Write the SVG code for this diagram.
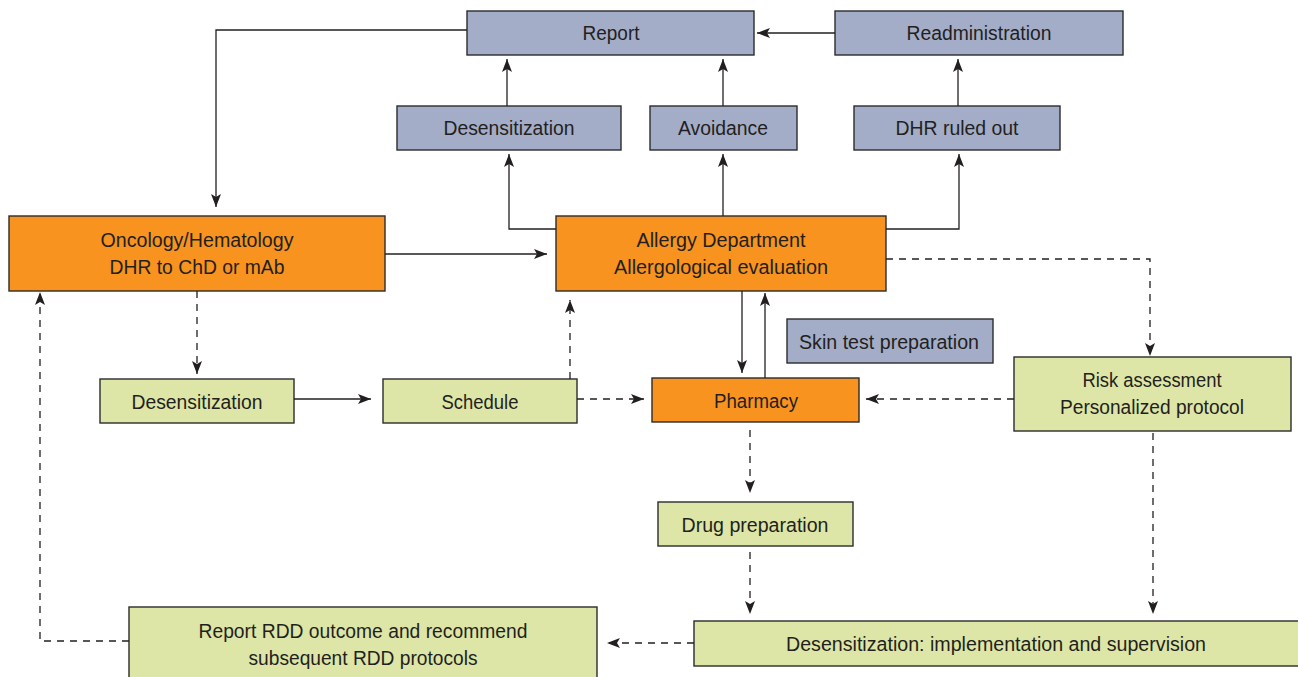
<svg xmlns="http://www.w3.org/2000/svg" width="1298" height="677" viewBox="0 0 1298 677">
<style>
.b{fill:#a3adc8;stroke:#2b2b2b;stroke-width:1.4}
.o{fill:#f7931e;stroke:#2b2b2b;stroke-width:1.4}
.g{fill:#dde6a6;stroke:#2b2b2b;stroke-width:1.4}
text{font-family:"Liberation Sans",Arial,sans-serif;font-size:20px;fill:#231f20;text-anchor:middle}
.c path{fill:none;stroke:#231f20;stroke-width:1.3}
.c .d{stroke-dasharray:7 6}
</style>
<defs>
<marker id="a" viewBox="0 0 13 10" refX="13" refY="5" markerWidth="13" markerHeight="10" markerUnits="userSpaceOnUse" orient="auto">
<path d="M0,0 L13,5 L0,10 L3,5 Z" fill="#231f20"/>
</marker>
</defs>
<rect width="1298" height="677" fill="#fff"/>
<g id="report"><rect class="b" x="467" y="11" width="287" height="44"/><text x="611" y="40" textLength="57" lengthAdjust="spacingAndGlyphs">Report</text></g>
<g id="readmin"><rect class="b" x="835" y="11" width="288" height="44"/><text x="979" y="40" textLength="145" lengthAdjust="spacingAndGlyphs">Readministration</text></g>
<g id="desens-blue"><rect class="b" x="397" y="106" width="224" height="44"/><text x="509" y="135" textLength="131" lengthAdjust="spacingAndGlyphs">Desensitization</text></g>
<g id="avoid"><rect class="b" x="650" y="106" width="147" height="44"/><text x="723" y="135" textLength="90" lengthAdjust="spacingAndGlyphs">Avoidance</text></g>
<g id="ruledout"><rect class="b" x="854" y="106" width="206" height="44"/><text x="957" y="135" textLength="123" lengthAdjust="spacingAndGlyphs">DHR ruled out</text></g>
<g id="onco"><rect class="o" x="9" y="216" width="376" height="75"/><text x="197" y="247" textLength="193" lengthAdjust="spacingAndGlyphs">Oncology/Hematology</text><text x="197" y="274" textLength="175" lengthAdjust="spacingAndGlyphs">DHR to ChD or mAb</text></g>
<g id="allergy"><rect class="o" x="556" y="216" width="330" height="75"/><text x="721" y="247" textLength="169" lengthAdjust="spacingAndGlyphs">Allergy Department</text><text x="721" y="274" textLength="214" lengthAdjust="spacingAndGlyphs">Allergological evaluation</text></g>
<g id="skin"><rect class="b" x="787" y="319" width="206" height="44"/><text x="889" y="349" textLength="180" lengthAdjust="spacingAndGlyphs">Skin test preparation</text></g>
<g id="desens-green"><rect class="g" x="100" y="379" width="194" height="44"/><text x="197" y="409" textLength="131" lengthAdjust="spacingAndGlyphs">Desensitization</text></g>
<g id="schedule"><rect class="g" x="383" y="379" width="194" height="44"/><text x="480" y="409" textLength="77" lengthAdjust="spacingAndGlyphs">Schedule</text></g>
<g id="pharmacy"><rect class="o" x="652" y="378" width="207" height="44"/><text x="756" y="408" textLength="84" lengthAdjust="spacingAndGlyphs">Pharmacy</text></g>
<g id="risk"><rect class="g" x="1014" y="357" width="277" height="74"/><text x="1152" y="387" textLength="139" lengthAdjust="spacingAndGlyphs">Risk assessment</text><text x="1152" y="414" textLength="184" lengthAdjust="spacingAndGlyphs">Personalized protocol</text></g>
<g id="drug"><rect class="g" x="658" y="502" width="195" height="44"/><text x="755" y="532" textLength="147" lengthAdjust="spacingAndGlyphs">Drug preparation</text></g>
<g id="reportrdd"><rect class="g" x="129" y="607" width="468" height="76"/><text x="363" y="638" textLength="329" lengthAdjust="spacingAndGlyphs">Report RDD outcome and recommend</text><text x="363" y="665" textLength="229" lengthAdjust="spacingAndGlyphs">subsequent RDD protocols</text></g>
<g id="impl"><rect class="g" x="694" y="621" width="612" height="45"/><text x="996" y="651" textLength="420" lengthAdjust="spacingAndGlyphs">Desensitization: implementation and supervision</text></g>
<g class="c" id="connectors">
<path d="M467,30 H216 V207" marker-end="url(#a)"/>
<path d="M507,106 V59" marker-end="url(#a)"/>
<path d="M723,106 V59" marker-end="url(#a)"/>
<path d="M958,106 V59" marker-end="url(#a)"/>
<path d="M835,33 H757" marker-end="url(#a)"/>
<path d="M556,229 H509 V154" marker-end="url(#a)"/>
<path d="M723,216 V154" marker-end="url(#a)"/>
<path d="M886,229 H959 V154" marker-end="url(#a)"/>
<path d="M385,254 H547" marker-end="url(#a)"/>
<path d="M742,291 V373" marker-end="url(#a)"/>
<path d="M765,378 V293" marker-end="url(#a)"/>
<path d="M294,399 H371" marker-end="url(#a)"/>
<path class="d" d="M886,259 H1150 V356" marker-end="url(#a)"/>
<path class="d" d="M197,291 V374" marker-end="url(#a)"/>
<path class="d" d="M570,379 V300" marker-end="url(#a)"/>
<path class="d" d="M577,399 H644" marker-end="url(#a)"/>
<path class="d" d="M1014,399 H866" marker-end="url(#a)"/>
<path class="d" d="M750,430 V493" marker-end="url(#a)"/>
<path class="d" d="M750,552 V614" marker-end="url(#a)"/>
<path class="d" d="M1153,433 V614" marker-end="url(#a)"/>
<path class="d" d="M694,643 H607" marker-end="url(#a)"/>
<path class="d" d="M129,641 H40 V292" marker-end="url(#a)"/>
</g>
</svg>
